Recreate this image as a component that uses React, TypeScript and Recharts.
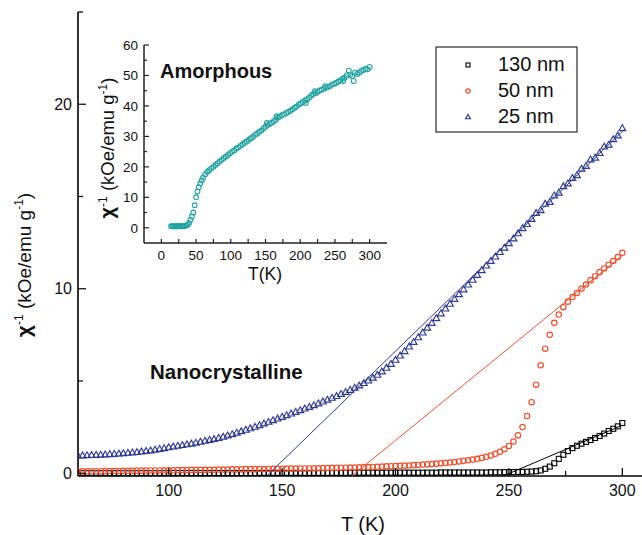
import React from "react";
import { ComposedChart, Scatter, XAxis, YAxis } from "recharts";

const BLUE = "#2f3a94";
const RED = "#f0502e";
const CYAN = "#1fa3a1";
const FONT = "'Liberation Sans', Arial, Helvetica, sans-serif";

// main panel: temperature grid (K)
const temps = [
  60, 62, 64, 66, 68, 70, 72, 74, 76, 78,
  80, 82, 84, 86, 88, 90, 92, 94, 96, 98,
  100, 102, 104, 106, 108, 110, 112, 114, 116, 118,
  120, 122, 124, 126, 128, 130, 132, 134, 136, 138,
  140, 142, 144, 146, 148, 150, 152, 154, 156, 158,
  160, 162, 164, 166, 168, 170, 172, 174, 176, 178,
  180, 182, 184, 186, 188, 190, 192, 194, 196, 198,
  200, 202, 204, 206, 208, 210, 212, 214, 216, 218,
  220, 222, 224, 226, 228, 230, 232, 234, 236, 238,
  240, 242, 244, 246, 248, 250, 252, 254, 256, 258,
  260, 262, 264, 266, 268, 270, 272, 274, 276, 278,
  280, 282, 284, 286, 288, 290, 292, 294, 296, 298,
  300,
];

// inverse susceptibility, kOe/(emu/g)
const chi130 = [
  0, 0, 0, 0, 0, 0, 0, 0, 0, 0,
  0, 0, 0, 0, 0, 0, 0, 0, 0, 0,
  0.01, 0.01, 0.01, 0.01, 0.01, 0.01, 0.01, 0.01, 0.01, 0.01,
  0.01, 0.01, 0.01, 0.01, 0.01, 0.01, 0.01, 0.01, 0.01, 0.01,
  0.02, 0.02, 0.02, 0.02, 0.02, 0.02, 0.02, 0.02, 0.02, 0.02,
  0.02, 0.02, 0.02, 0.02, 0.02, 0.02, 0.02, 0.02, 0.02, 0.02,
  0.03, 0.03, 0.03, 0.03, 0.03, 0.03, 0.03, 0.03, 0.03, 0.03,
  0.03, 0.03, 0.03, 0.03, 0.03, 0.03, 0.03, 0.03, 0.03, 0.03,
  0.04, 0.04, 0.04, 0.04, 0.04, 0.04, 0.04, 0.04, 0.04, 0.04,
  0.04, 0.05, 0.05, 0.05, 0.06, 0.06, 0.06, 0.07, 0.07, 0.08,
  0.09, 0.11, 0.15, 0.24, 0.36, 0.54, 0.78, 1.0, 1.2, 1.36,
  1.49, 1.6, 1.7, 1.8, 1.91, 2.02, 2.15, 2.29, 2.41, 2.54,
  2.72,
];

const chi50 = [
  0.1, 0.1, 0.1, 0.11, 0.11, 0.11, 0.12, 0.12, 0.12, 0.12,
  0.13, 0.13, 0.13, 0.14, 0.14, 0.14, 0.15, 0.15, 0.15, 0.16,
  0.16, 0.16, 0.17, 0.17, 0.17, 0.18, 0.18, 0.18, 0.19, 0.19,
  0.19, 0.2, 0.2, 0.2, 0.21, 0.21, 0.21, 0.22, 0.22, 0.22,
  0.23, 0.23, 0.23, 0.24, 0.24, 0.24, 0.25, 0.25, 0.25, 0.26,
  0.26, 0.26, 0.27, 0.27, 0.28, 0.28, 0.29, 0.29, 0.3, 0.3,
  0.31, 0.31, 0.32, 0.33, 0.33, 0.34, 0.35, 0.36, 0.37, 0.38,
  0.39, 0.4, 0.41, 0.42, 0.44, 0.45, 0.47, 0.48, 0.5, 0.52,
  0.54, 0.56, 0.58, 0.61, 0.64, 0.67, 0.7, 0.74, 0.78, 0.83,
  0.89, 0.96, 1.05, 1.16, 1.3, 1.48, 1.72, 2.05, 2.5, 3.1,
  3.85, 4.8, 5.85, 6.75, 7.5, 8.15, 8.6, 9.0, 9.3, 9.55,
  9.77, 10.0, 10.23, 10.46, 10.68, 10.9, 11.1, 11.3, 11.5, 11.72,
  11.95,
];

const chi25 = [
  0.95, 0.96, 0.97, 0.98, 0.99, 1.0, 1.01, 1.03, 1.04, 1.06,
  1.08, 1.1, 1.12, 1.14, 1.17, 1.2, 1.23, 1.27, 1.31, 1.35,
  1.4, 1.44, 1.48, 1.52, 1.56, 1.6, 1.65, 1.7, 1.75, 1.8,
  1.85, 1.91, 1.97, 2.04, 2.11, 2.19, 2.27, 2.35, 2.43, 2.51,
  2.6, 2.69, 2.78, 2.87, 2.96, 3.05, 3.14, 3.23, 3.32, 3.41,
  3.5, 3.59, 3.68, 3.78, 3.88, 3.98, 4.08, 4.18, 4.29, 4.4,
  4.51, 4.63, 4.75, 4.88, 5.02, 5.17, 5.33, 5.51, 5.71, 5.92,
  6.14, 6.37, 6.61, 6.86, 7.11, 7.36, 7.62, 7.88, 8.14, 8.4,
  8.66, 8.92, 9.18, 9.44, 9.7, 9.96, 10.22, 10.48, 10.74, 11.0,
  11.25, 11.5, 11.74, 11.98, 12.22, 12.46, 12.72, 13.0, 13.28, 13.5,
  13.78, 14.1, 14.25, 14.6, 14.7, 15.05, 15.2, 15.55, 15.7, 16.0,
  16.15, 16.5, 16.65, 17.0, 17.1, 17.35, 17.7, 17.8, 18.1, 18.3,
  18.7,
];

// Curie-Weiss fits (end points)
const fitT130 = [247.5, 300];
const fitV130 = [-0.15, 2.6];
const fitT50 = [180.7, 300];
const fitV50 = [-0.15, 11.8];
const fitT25 = [143.2, 301];
const fitV25 = [-0.15, 18.65];

// inset: amorphous sample
const amT = [
  14, 16, 18, 20, 22, 24, 26, 28, 30, 32, 34, 36, 38, 40, 42, 44, 46, 48,
  50, 52, 54, 56, 58, 60, 63, 66, 69, 72, 75, 78, 81, 84, 87, 90, 93, 96,
  99, 102, 105, 108, 111, 114, 117, 120, 123, 126, 129, 132, 135, 138, 141,
  144, 147, 150, 152, 153, 156, 159, 162, 165, 166, 168, 171, 174, 177, 180,
  183, 186, 189, 192, 195, 198, 201, 204, 207, 208, 210, 213, 216, 219, 221,
  222, 225, 228, 231, 234, 236, 237, 240, 243, 246, 249, 252, 255, 258, 261,
  262, 264, 267, 270, 272, 275, 277, 279, 282, 285, 288, 291, 294, 297, 300,
];
const amV = [
  0.5, 0.5, 0.5, 0.5, 0.5, 0.5, 0.5, 0.5, 0.5, 0.6, 0.6, 0.8, 1.0, 1.6, 2.6,
  3.7, 5.0, 7.4, 10.0, 11.9, 13.3, 14.5, 15.5, 16.4, 17.5, 18.3, 18.9, 19.5,
  20.0, 20.6, 21.2, 21.8, 22.3, 22.9, 23.4, 23.9, 24.5, 25.0, 25.4, 26.0,
  26.4, 26.9, 27.4, 27.9, 28.3, 28.9, 29.4, 29.8, 30.5, 30.9, 31.5, 31.9,
  32.6, 33.2, 34.4, 33.7, 34.1, 34.5, 35.0, 35.5, 36.6, 36.2, 36.5, 37.0,
  37.3, 37.7, 38.0, 38.4, 38.9, 39.4, 39.8, 40.5, 40.9, 41.3, 41.8, 41.0,
  42.2, 42.7, 43.4, 43.9, 44.8, 44.2, 44.6, 45.1, 45.3, 45.6, 46.5, 46.0,
  46.2, 46.5, 47.0, 47.3, 47.6, 48.0, 48.4, 48.9, 48.2, 49.3, 50.0, 51.6,
  50.2, 49.8, 48.2, 51.0, 50.5, 50.9, 51.5, 51.8, 52.1, 52.0, 52.8,
];

const mainXTicks = [75, 100, 125, 150, 175, 200, 225, 250, 275, 300];
const mainXLabels = [100, 150, 200, 250, 300];
const mainYTicks = [0, 5, 10, 15, 20, 25];
const mainYLabels = [0, 10, 20];
const insetXTicks = [0, 25, 50, 75, 100, 125, 150, 175, 200, 225, 250, 275, 300];
const insetXLabels = [0, 50, 100, 150, 200, 250, 300];
const insetYTicks = [0, 5, 10, 15, 20, 25, 30, 35, 40, 45, 50, 55, 60];
const insetYLabels = [0, 10, 20, 30, 40, 50, 60];

const seriesNames = ["130 nm", "50 nm", "25 nm"];

const zip = (t: number[], v: number[]) => t.map((x, i) => ({ t: x, v: v[i] }));

const d130 = zip(temps, chi130);
const d50 = zip(temps, chi50);
const d25 = zip(temps, chi25);
const f130 = zip(fitT130, fitV130);
const f50 = zip(fitT50, fitV50);
const f25 = zip(fitT25, fitV25);
const dAm = zip(amT, amV);

const Square = ({ cx, cy, size = 5, stroke = "#000" }: any) => (
  <rect x={cx - size / 2} y={cy - size / 2} width={size} height={size} fill="none" stroke={stroke} strokeWidth={1.1} />
);
const Circle = ({ cx, cy, r = 2.7, stroke = RED, w = 1.2 }: any) => (
  <circle cx={cx} cy={cy} r={r} fill="none" stroke={stroke} strokeWidth={w} />
);
const Triangle = ({ cx, cy, s = 6.8, stroke = BLUE }: any) => {
  const h = s * 0.86;
  return (
    <polygon
      points={`${cx},${cy - h * 0.6} ${cx - s / 2},${cy + h * 0.4} ${cx + s / 2},${cy + h * 0.4}`}
      fill="none"
      stroke={stroke}
      strokeWidth={1.15}
    />
  );
};
const Nothing = () => <g />;

// tick factories: inward tick marks, longer for labelled ticks
const makeTick =
  (side: "bottom" | "top" | "left" | "right", labels: number[], major: number, minor: number, fontSize: number, color: string, gap = 4) =>
  (p: any) => {
    const { x, y, payload } = p;
    const isMajor = labels.includes(payload.value);
    const len = isMajor ? major : minor;
    let line;
    let label = null;
    if (side === "bottom") {
      line = <line x1={x} x2={x} y1={y} y2={y - len} stroke={color} strokeWidth={1.2} />;
      if (isMajor)
        label = (
          <text x={x} y={y + fontSize + gap} textAnchor="middle" fontSize={fontSize} fontFamily={FONT} fill="#111">
            {payload.value}
          </text>
        );
    } else if (side === "top") {
      line = <line x1={x} x2={x} y1={y} y2={y + len} stroke={color} strokeWidth={1.2} />;
    } else if (side === "left") {
      line = <line x1={x} x2={x + len} y1={y} y2={y} stroke={color} strokeWidth={1.2} />;
      if (isMajor)
        label = (
          <text x={x - 6} y={y + fontSize * 0.36} textAnchor="end" fontSize={fontSize} fontFamily={FONT} fill="#111">
            {payload.value}
          </text>
        );
    } else {
      line = <line x1={x} x2={x - len} y1={y} y2={y} stroke={color} strokeWidth={1.2} />;
    }
    return (
      <g>
        {line}
        {label}
      </g>
    );
  };

const frame = { stroke: "#000", strokeWidth: 1.6 };
const insetFrame = { stroke: "#222", strokeWidth: 1.5 };

function MainChart() {
  return (
    <ComposedChart width={660} height={535} margin={{ top: 12, right: 15, left: 0, bottom: 0 }}>
      <XAxis
        dataKey="t"
        type="number"
        domain={[60, 310]}
        allowDataOverflow
        ticks={mainXTicks}
        interval={0}
        tickSize={0}
        tickMargin={0}
        height={59}
        axisLine={frame}
        tickLine={false}
        tick={makeTick("bottom", mainXLabels, 8, 5, 16, "#000")}
      />
      <XAxis
        xAxisId="top"
        orientation="top"
        type="number"
        domain={[60, 310]}
        allowDataOverflow
        ticks={mainXTicks}
        interval={0}
        tickSize={0}
        tickMargin={0}
        height={0}
        axisLine={frame}
        tickLine={false}
        tick={makeTick("top", mainXLabels, 8, 5, 16, "#000")}
      />
      <YAxis
        dataKey="v"
        type="number"
        domain={[-0.15, 25]}
        allowDataOverflow
        ticks={mainYTicks}
        interval={0}
        tickSize={0}
        tickMargin={0}
        width={78}
        axisLine={frame}
        tickLine={false}
        tick={makeTick("left", mainYLabels, 8, 5, 16, "#000")}
      />
      <YAxis
        yAxisId="right"
        orientation="right"
        type="number"
        domain={[-0.15, 25]}
        allowDataOverflow
        ticks={mainYTicks}
        interval={0}
        tickSize={0}
        tickMargin={0}
        width={0}
        axisLine={frame}
        tickLine={false}
        tick={makeTick("right", mainYLabels, 8, 3, 16, "#000")}
      />
      <Scatter data={d130} dataKey="v" shape={(p: any) => <Square cx={p.cx} cy={p.cy} />} isAnimationActive={false} />
      <Scatter data={d50} dataKey="v" shape={(p: any) => <Circle cx={p.cx} cy={p.cy} />} isAnimationActive={false} />
      <Scatter data={d25} dataKey="v" shape={(p: any) => <Triangle cx={p.cx} cy={p.cy} />} isAnimationActive={false} />
      <Scatter data={f25} dataKey="v" line={{ stroke: BLUE, strokeWidth: 1 }} shape={Nothing} isAnimationActive={false} />
      <Scatter data={f50} dataKey="v" line={{ stroke: RED, strokeWidth: 1 }} shape={Nothing} isAnimationActive={false} />
      <Scatter data={f130} dataKey="v" line={{ stroke: "#000", strokeWidth: 1 }} shape={Nothing} isAnimationActive={false} />
    </ComposedChart>
  );
}

function InsetChart() {
  return (
    <ComposedChart width={400} height={290} margin={{ top: 45, right: 13, left: 0, bottom: 0 }}>
      <XAxis
        dataKey="t"
        type="number"
        domain={[-25, 325]}
        allowDataOverflow
        ticks={insetXTicks}
        interval={0}
        tickSize={0}
        tickMargin={0}
        height={47}
        axisLine={insetFrame}
        tickLine={false}
        tick={makeTick("bottom", insetXLabels, 4, 4, 13.5, "#222", 3)}
      />
      <XAxis
        xAxisId="top"
        orientation="top"
        type="number"
        domain={[-25, 325]}
        allowDataOverflow
        ticks={insetXTicks}
        interval={0}
        tickSize={0}
        tickMargin={0}
        height={0}
        axisLine={insetFrame}
        tickLine={false}
        tick={makeTick("top", insetXLabels, 4, 4, 13.5, "#222")}
      />
      <YAxis
        dataKey="v"
        type="number"
        domain={[-5, 60]}
        allowDataOverflow
        ticks={insetYTicks}
        interval={0}
        tickSize={0}
        tickMargin={0}
        width={144}
        axisLine={insetFrame}
        tickLine={false}
        tick={makeTick("left", insetYLabels, 5, 3, 13.5, "#222")}
      />
      <YAxis
        yAxisId="right"
        orientation="right"
        type="number"
        domain={[-5, 60]}
        allowDataOverflow
        ticks={insetYTicks}
        interval={0}
        tickSize={0}
        tickMargin={0}
        width={0}
        axisLine={insetFrame}
        tickLine={false}
        tick={makeTick("right", insetYLabels, 5, 3, 13.5, "#222")}
      />
      <Scatter
        data={dAm}
        dataKey="v"
        shape={(p: any) => <Circle cx={p.cx} cy={p.cy} r={2.4} stroke={CYAN} w={1.1} />}
        isAnimationActive={false}
      />
    </ComposedChart>
  );
}

function Overlay() {
  const rows = [71, 97, 123];
  return (
    <svg width={642} height={535} style={{ position: "absolute", left: 0, top: 0 }} fontFamily={FONT}>
      {/* main y label */}
      <text transform="translate(31,265) rotate(-90)" textAnchor="middle" fontSize={19} fill="#111">
        <tspan fontWeight="bold" fontSize={21}>χ</tspan>
        <tspan dy={-8} fontSize={12}>-1</tspan>
        <tspan dy={8}> (kOe/emu g</tspan>
        <tspan dy={-8} fontSize={12}>-1</tspan>
        <tspan dy={8}>)</tspan>
      </text>
      <text x={363} y={531} textAnchor="middle" fontSize={20} fill="#111">
        T (K)
      </text>
      <text x={150} y={379} fontSize={20.5} fontWeight="bold" fill="#111">
        Nanocrystalline
      </text>
      {/* inset labels */}
      <text transform="translate(114,148) rotate(-90)" textAnchor="middle" fontSize={18.5} fill="#111">
        <tspan fontWeight="bold" fontSize={20}>χ</tspan>
        <tspan dy={-7} fontSize={12}>-1</tspan>
        <tspan dy={7}> (kOe/emu g</tspan>
        <tspan dy={-7} fontSize={12}>-1</tspan>
        <tspan dy={7}>)</tspan>
      </text>
      <text x={265} y={280} textAnchor="middle" fontSize={17.5} fill="#111">
        T(K)
      </text>
      <text x={160} y={78} fontSize={20} fontWeight="bold" fill="#111">
        Amorphous
      </text>
      {/* legend */}
      <rect x={436} y={47} width={141} height={85} fill="#fff" stroke="#000" strokeWidth={1} />
      <Square cx={468} cy={rows[0] - 6} size={4} />
      <Circle cx={468} cy={rows[1] - 6} r={2.2} />
      <Triangle cx={468} cy={rows[2] - 6} s={5} />
      {seriesNames.map((n, i) => (
        <text key={n} x={498} y={rows[i]} fontSize={20} fill="#111">
          {n}
        </text>
      ))}
    </svg>
  );
}

export default function App() {
  return (
    <div style={{ position: "absolute", left: 0, top: 0, width: 642, height: 535, overflow: "hidden", background: "#fff" }}>
      <div style={{ position: "absolute", left: 0, top: 0 }}>
        <MainChart />
      </div>
      <div style={{ position: "absolute", left: 0, top: 0 }}>
        <InsetChart />
      </div>
      <Overlay />
    </div>
  );
}
